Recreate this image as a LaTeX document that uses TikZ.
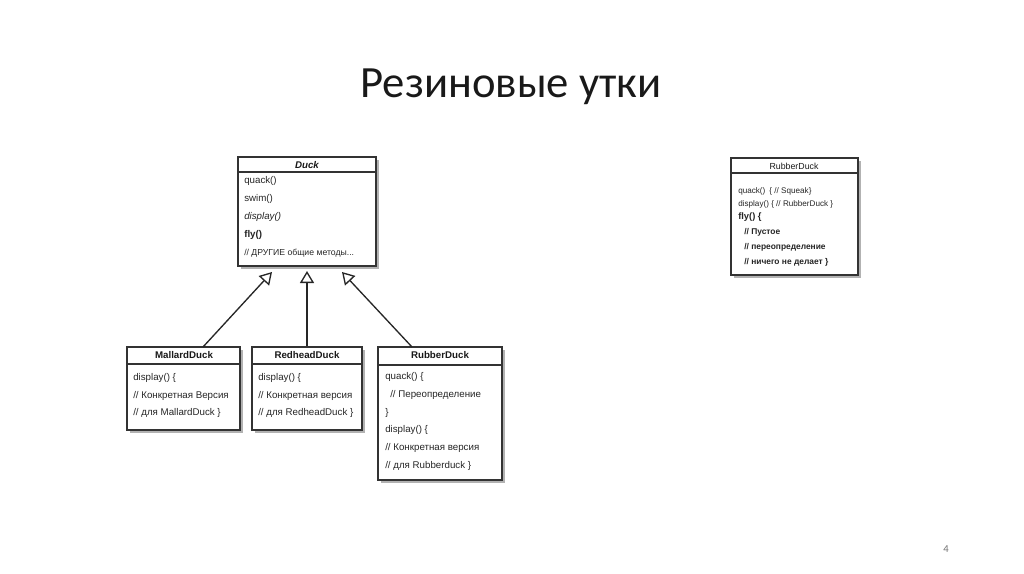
\documentclass[tikz,border=0pt]{standalone}
\usepackage{fontspec}
\setmainfont{Liberation Sans}
\newfontfamily\titlefont{Carlito}
\usetikzlibrary{arrows.meta,fit}
\tikzset{
  umlbox/.style={draw=black!80, line width=1.1pt, inner sep=0pt, fill=white},
  shade/.style={fill=black!30},
  sep/.style={draw=black!80, line width=0.9pt},
  txt/.style={anchor=west, inner sep=0pt, font=\fontsize{7.3}{8}\selectfont, text=black!85},
  smalltxt/.style={anchor=west, inner sep=0pt, font=\fontsize{6.1}{7}\selectfont, text=black!85},
  hdr/.style={inner sep=0pt, font=\bfseries\fontsize{7.3}{8}\selectfont, text=black!90},
  inherit/.style={draw=black!85, line width=1pt, -{Triangle[open,length=9pt,width=10.5pt,line width=1pt]}},
}
\begin{document}
\begin{tikzpicture}[x=0.75pt,y=-0.75pt]
\useasboundingbox (0,0) rectangle (1024,574);
% title
\node[font=\titlefont\fontsize{33.5}{40}\selectfont, text=black!90] (title) at (511,87) {Резиновые утки};
\node[font=\titlefont\fontsize{8}{9}\selectfont, text=black!55] (pagenum) at (946,549) {4};

% shadows
\fill[shade] (241,160) rectangle (379,269);
\fill[shade] (130,350) rectangle (243,433);
\fill[shade] (255,350) rectangle (365,433);
\fill[shade] (381,350) rectangle (505,483);
\fill[shade] (734,161) rectangle (861,278);

% Duck
\node[umlbox, fit={(238,157) (376,266)}] (duck) {};
\draw[sep] (238,172) -- (376,172);
\node[hdr, font=\bfseries\itshape\fontsize{7.3}{8}\selectfont] (duckh) at (307,165) {Duck};
\node[txt] (d1) at (244,181) {quack()};
\node[txt] (d2) at (244,199) {swim()};
\node[txt, font=\itshape\fontsize{7.3}{8}\selectfont] (d3) at (244,217) {display()};
\node[txt, font=\bfseries\fontsize{7.3}{8}\selectfont] (d4) at (244,235) {fly()};
\node[txt, font=\fontsize{6.5}{8}\selectfont] (d5) at (244,253) {// ДРУГИЕ общие методы...};

% MallardDuck
\node[umlbox, fit={(127,347) (240,430)}] (mallard) {};
\draw[sep] (127,364) -- (240,364);
\node[hdr] (mallardh) at (184,355) {MallardDuck};
\node[txt] (m1) at (133,378) {display() \{};
\node[txt] (m2) at (133,396) {// Конкретная Версия};
\node[txt] (m3) at (133,413) {// для MallardDuck \}};

% RedheadDuck
\node[umlbox, fit={(252,347) (362,430)}] (redhead) {};
\draw[sep] (252,364) -- (362,364);
\node[hdr] (redheadh) at (307,355) {RedheadDuck};
\node[txt] (r1) at (258,378) {display() \{};
\node[txt] (r2) at (258,396) {// Конкретная версия};
\node[txt] (r3) at (258,413) {// для RedheadDuck \}};

% RubberDuck (subclass)
\node[umlbox, fit={(378,347) (502,480)}] (rubber) {};
\draw[sep] (378,365) -- (502,365);
\node[hdr] (rubberh) at (440,355) {RubberDuck};
\node[txt] (b1) at (385,377) {quack() \{};
\node[txt] (b2) at (390,395) {// Переопределение};
\node[txt] (b3) at (385,413) {\}};
\node[txt] (b4) at (385,430) {display() \{};
\node[txt] (b5) at (385,448) {// Конкретная версия};
\node[txt] (b6) at (385,466) {// для Rubberduck \}};

% RubberDuck (right)
\node[umlbox, fit={(731,158) (858,275)}] (rubber2) {};
\draw[sep] (731,173) -- (858,173);
\node[hdr, font=\fontsize{6.6}{8}\selectfont] (rubber2h) at (794,166) {RubberDuck};
\node[smalltxt] (q1) at (738,191) {quack()\enspace\{ // Squeak\}};
\node[smalltxt] (q2) at (738,204) {display() \{ // RubberDuck \}};
\node[smalltxt, font=\bfseries\fontsize{7}{8}\selectfont] (q3) at (738,217) {fly() \{};
\node[smalltxt, font=\bfseries\fontsize{6.3}{8}\selectfont] (q4) at (744,232) {// Пустое};
\node[smalltxt, font=\bfseries\fontsize{6.3}{8}\selectfont] (q5) at (744,247) {// переопределение};
\node[smalltxt, font=\bfseries\fontsize{6.3}{8}\selectfont] (q6) at (744,262) {// ничего не делает \}};

% inheritance connectors
\coordinate (tipL) at (272,272);
\coordinate (tipM) at (307,271);
\coordinate (tipR) at (342,272);
\coordinate (startL) at (203,347);
\coordinate (startR) at (412,347);
\draw[inherit] (startL) -- (tipL);
\draw[inherit] (redhead.north) -- (tipM);
\draw[inherit] (startR) -- (tipR);
\end{tikzpicture}
\end{document}
